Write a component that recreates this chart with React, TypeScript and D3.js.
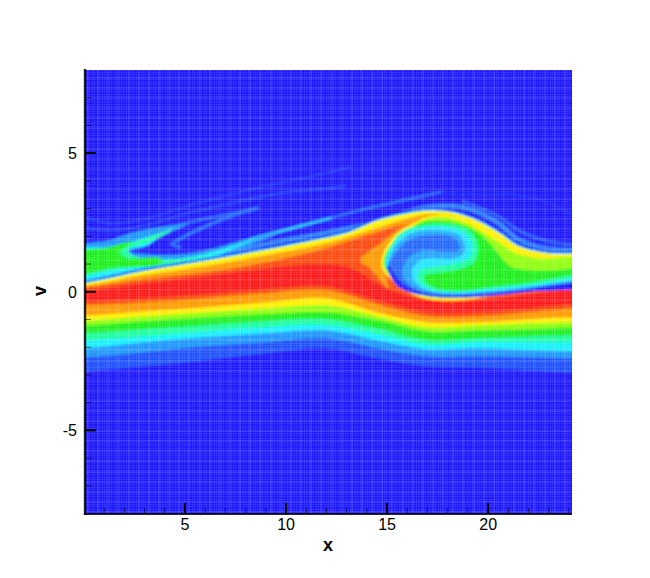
import React from "react";
import * as d3 from "d3";

type P = [number, number];
const X_DOMAIN: P = [0.05, 24.15];
const V_DOMAIN: P = [-8, 8];
const xMajor = [5, 10, 15, 20];
const vMajor = [-5, 0, 5];
const xMinor = d3.range(1, 25);
const vMinor = d3.range(-7, 8);

const lowerX = [0.05, 3, 6, 9, 12, 14.5, 17, 19.5, 22, 24.15];
const midLower = [-2.87, -2.69, -2.47, -2.22, -2.04, -2.40, -2.69, -2.73, -2.83, -2.91];
const skyLower = [-2.36, -2.18, -1.97, -1.82, -1.68, -2.04, -2.33, -2.33, -2.36, -2.40];
const cyanLower = [-2.04, -1.82, -1.64, -1.50, -1.39, -1.75, -2.08, -2.04, -2.11, -2.15];
const springLower = [-1.75, -1.61, -1.43, -1.28, -1.21, -1.53, -1.90, -1.82, -1.82, -1.82];
const greenLower = [-1.50, -1.35, -1.21, -1.06, -0.99, -1.32, -1.75, -1.68, -1.61, -1.57];
const limeLower = [-1.21, -1.06, -0.92, -0.81, -0.74, -1.03, -1.43, -1.39, -1.35, -1.28];
const yellowLower = [-1.03, -0.88, -0.74, -0.60, -0.49, -0.88, -1.28, -1.21, -1.14, -1.10];
const orangeLower = [-0.85, -0.70, -0.56, -0.38, -0.23, -0.74, -1.10, -1.10, -0.99, -0.92];
const scarletLower = [-0.49, -0.38, -0.23, -0.05, 0.05, -0.45, -0.88, -0.88, -0.74, -0.60];
const redLower = [-0.34, -0.23, -0.09, 0.09, 0.20, -0.31, -0.74, -0.74, -0.60, -0.45];

const upperX = [0.05, 3, 6, 9, 12, 13.2, 14.5, 15.9, 17.1, 18.4, 19.6, 20.6, 21.5, 22.8, 24.15];
const yellowTop = [0.31, 0.74, 1.10, 1.50, 1.93, 2.15, 2.55, 2.80, 2.91, 2.82, 2.50, 2.08, 1.63, 1.39, 1.35];
const orangeTop = [0.22, 0.60, 0.92, 1.32, 1.75, 2.00, 2.30, 2.62, 2.80, 2.69, 2.20, 1.60, 1.30, 1.18, 1.15];
const scarletTop = [0.16, 0.45, 0.70, 1.06, 1.57, 1.86, 2.15, 2.40, 2.22, 1.86, 1.50, 1.14, 0.96, 0.78, 0.70];

const redTopX = [0.05, 3.02, 5.99, 9.01, 10.49, 11.98, 12.92, 13.66, 14.65, 15.64, 16.29, 17.97, 19.6, 22.08, 24.16];
const redTopV = [0.05, 0.31, 0.56, 0.85, 0.96, 0.99, 0.92, 0.70, 0.23, -0.05, -0.20, -0.38, -0.31, -0.09, 0.09];

const orangePatch: P[] = [[15.73,2.34],[14.66,1.74],[13.67,1.14],[14.16,0.84],[14.74,0.36],[15.07,0.11],[14.82,0.90],[14.74,1.38],[15.07,1.80]];

const eyeYellow: P[] = [[14.70,1.06],[14.85,1.50],[15.25,1.93],[15.74,2.26],[16.24,2.44],[16.88,2.69],[17.62,2.78],[18.37,2.69],[19.11,2.50],[19.85,2.20],[20.59,1.90],[21.34,1.52],[22.57,1.27],[24.55,1.23],[24.55,0.31],[22.57,0.09],[20.59,-0.09],[19.11,-0.27],[17.62,-0.31],[16.63,-0.20],[15.89,0.05],[15.25,0.42],[14.85,0.70]];
const eyeLime: P[] = [[14.80,1.06],[14.98,1.50],[15.40,1.86],[15.89,2.15],[16.39,2.42],[17.13,2.66],[17.87,2.68],[18.51,2.58],[19.21,2.38],[19.85,2.08],[20.59,1.76],[21.34,1.40],[22.57,1.20],[24.55,1.16],[24.55,0.38],[22.57,0.16],[20.59,-0.02],[19.11,-0.20],[17.62,-0.23],[16.63,-0.13],[15.89,0.13],[15.30,0.49],[14.90,0.78]];
const eyeGreen: P[] = [[14.84,1.06],[15.08,1.55],[15.54,1.90],[16.04,2.22],[16.63,2.48],[17.37,2.56],[18.37,2.48],[19.36,2.20],[20.0,1.80],[20.59,1.30],[21.09,0.92],[22.08,0.78],[23.32,0.78],[24.55,0.80],[24.55,0.45],[22.57,0.23],[20.59,0.05],[19.11,-0.13],[17.62,-0.16],[16.63,-0.05],[15.89,0.20],[15.35,0.52],[14.95,0.82]];
const eyeSpring: P[] = [[14.87,1.06],[15.15,1.64],[15.69,2.15],[16.63,2.40],[18.12,2.44],[19.11,2.18],[19.5,1.68],[19.3,1.06],[18.37,0.78],[17.37,0.67],[16.88,0.6],[16.88,0.38],[17.47,0.13],[18.61,0.05],[20.43,0.20],[22.08,0.33],[24.14,0.60],[24.72,0.66],[24.72,0.24],[22.08,0.11],[20.43,-0.01],[18.78,-0.09],[17.13,-0.01],[15.98,0.30],[14.97,0.84]];
const eyeCyan: P[] = [[14.95,1.06],[15.25,1.61],[15.79,2.08],[16.63,2.29],[17.97,2.33],[18.86,2.11],[19.21,1.68],[19.01,1.21],[18.12,0.99],[17.13,0.88],[16.63,0.78],[16.53,0.42],[17.02,0.13],[18.12,-0.02],[20.43,0.12],[22.08,0.24],[24.14,0.48],[24.72,0.54],[24.72,0.24],[22.08,0.09],[20.43,-0.03],[18.78,-0.11],[17.13,-0.03],[15.98,0.27],[15.0,0.84]];
const eyeSky: P[] = [[15.05,1.06],[15.35,1.57],[15.89,1.97],[16.63,2.18],[17.87,2.18],[18.61,2.0],[18.86,1.50],[18.37,1.21],[17.37,1.21],[16.63,1.14],[16.24,0.78],[16.34,0.38],[16.88,0.09],[17.87,-0.05],[20.43,0.04],[22.08,0.18],[24.14,0.39],[24.72,0.44],[24.72,0.20],[22.08,0.06],[20.43,-0.06],[18.78,-0.14],[17.13,-0.07],[15.89,0.23],[15.05,0.84]];
const eyeMid: P[] = [[15.12,1.06],[15.54,1.5],[16.04,1.86],[16.63,2.0],[17.72,2.04],[18.41,1.9],[18.56,1.5],[17.87,1.43],[16.88,1.50],[16.14,1.28],[15.79,0.85],[15.84,0.49],[16.39,0.13],[17.62,-0.09],[20.43,-0.02],[22.08,0.13],[24.14,0.34],[24.72,0.38],[24.72,0.18],[22.08,0.01],[20.43,-0.11],[18.78,-0.19],[16.80,-0.11],[15.56,0.18],[15.08,0.78]];
const eyeDeep: P[] = [[15.12,0.92],[15.4,0.6],[15.95,0.2],[16.97,-0.06],[18.78,-0.12],[20.43,-0.04],[22.08,0.11],[24.14,0.32],[24.72,0.37],[24.72,0.20],[22.08,0.01],[20.43,-0.13],[18.78,-0.21],[16.97,-0.15],[15.75,0.10],[15.15,0.58],[15.0,0.92]];

const tongueSky: P[] = [[-0.2,1.6],[1.29,1.86],[2.28,2.11],[4.01,2.36],[5.1,2.44],[4.26,2.15],[3.02,1.68],[2.28,1.46],[3.12,1.35],[4.75,1.35],[6.39,1.53],[8.2,1.90],[9.6,2.12],[8.2,1.66],[7.0,1.32],[5.99,1.10],[3.02,0.74],[0.05,0.31],[-0.2,0.31]];
const tongueCyan: P[] = [[-0.2,1.5],[1.29,1.62],[2.52,1.83],[3.76,2.08],[3.17,1.68],[2.18,1.5],[2.53,1.25],[4.01,1.14],[5.74,1.32],[7.5,1.68],[8.6,1.96],[7.3,1.52],[5.99,1.14],[3.02,0.74],[0.05,0.31],[-0.2,0.31]];
const tongueSpring: P[] = [[-0.2,1.44],[1.44,1.58],[3.12,1.95],[4.41,2.26],[3.27,1.82],[2.18,1.50],[2.53,1.28],[4.5,1.17],[6.49,1.36],[4.5,1.03],[1.44,0.78],[0.05,0.58],[-0.2,0.58]];
const tongueGreen: P[] = [[-0.2,1.42],[1.04,1.58],[2.4,1.80],[1.78,1.43],[2.1,1.23],[3.8,1.2],[3.8,1.02],[1.44,0.86],[0.05,0.64],[-0.2,0.64]];

type Filament = { pts: P[]; color: string; width: number };
const filaments: Filament[] = [
  { pts: [[0.15,2.65],[1.44,2.47],[3.12,2.65],[5.6,3.19],[8.07,3.66],[12.18,4.31],[13.17,4.49]], color: "#2440ff", width: 1.6 },
  { pts: [[0.15,2.29],[1.44,2.22],[3.12,2.40],[4.75,2.76],[7.23,3.19],[9.7,3.56],[12.18,3.74],[12.92,3.81]], color: "#2448ff", width: 1.8 },
  { pts: [[8.56,3.01],[7.23,2.80],[5.25,2.51],[3.76,2.15],[2.28,1.71]], color: "#2468ff", width: 2.6 },
  { pts: [[8.56,3.01],[7.23,2.72],[5.6,2.22],[4.65,1.86],[4.36,1.71],[4.75,1.61]], color: "#2470ff", width: 3 },
  { pts: [[20.94,3.56],[22.73,3.27],[24.16,2.76]], color: "#2030ff", width: 1.6 },
  { pts: [[18.76,3.25],[20.44,2.75],[21.54,2.2],[22.8,1.85],[24.16,1.7]], color: "#2860ff", width: 2.6 },
  { pts: [[17.62,3.59],[19.5,3.5],[20.94,3.56]], color: "#2030ff", width: 1.4 },
  { pts: [[7.23,1.44],[9.7,1.82],[12.18,2.15],[13.81,2.40],[15.49,2.76],[16.98,3.05],[18.76,3.05],[20.44,2.51],[21.44,1.90],[22.72,1.58],[24.16,1.51]], color: "#2a80ff", width: 4.5 },
  { pts: [[5.25,1.32],[6.39,1.50],[8.07,1.86],[9.7,2.18],[12.18,2.65],[13.66,2.94],[15.15,3.19],[17.62,3.59]], color: "#2470ff", width: 2.2 },
  { pts: [[5.25,1.32],[6.39,1.50],[8.07,1.86],[9.7,2.18],[12.18,2.65]], color: "#1fd0ff", width: 2.2 },
];

const C = {
  deep: "#1a14ff", mid: "#1a50ff", sky: "#1e96ff", cyan: "#19f0ff", spring: "#1affa0", green: "#1cf01c",
  lime: "#90ff10", yellow: "#fff000", orange: "#ff9a00", scarlet: "#ff4a10", red: "#ff1414",
  eyeMid: "#2468ff", eyeSky: "#22a4ff", eyeCyan: "#22e4ff",
};
const FINE_COLS = 200;
const FINE_ROWS = 182;
const COARSE_COLS = 48;
const COARSE_ROWS = 44;

const W = 650, H = 578;
const L = 85, R = 572, T = 70, B = 514;

export default function App() {
  const x = d3.scaleLinear().domain(X_DOMAIN).range([L, R]);
  const y = d3.scaleLinear().domain(V_DOMAIN).range([B - 0.5, T]);
  const smooth = d3.line<P>().x(d => x(d[0])).y(d => y(d[1])).curve(d3.curveCatmullRom.alpha(0.5));
  const closed = d3.line<P>().x(d => x(d[0])).y(d => y(d[1])).curve(d3.curveCatmullRomClosed.alpha(0.5));
  const zip = (xs: number[], vs: number[]) => {
    const pts = xs.map((a, i) => [a, vs[i]] as P);
    return [[xs[0] - 1, vs[0]] as P, ...pts, [xs[xs.length - 1] + 1, vs[vs.length - 1]] as P];
  };
  const band = (topX: number[], top: number[], low: number[]) => {
    const a = smooth(zip(topX, top)) as string;
    const b = smooth(zip(lowerX, low).reverse()) as string;
    return a + "L" + b.slice(1) + "Z";
  };
  const bands: [string, number[], number[], number[]][] = [
    [C.mid, upperX, yellowTop, midLower],
    [C.sky, upperX, yellowTop, skyLower],
    [C.cyan, upperX, yellowTop, cyanLower],
    [C.spring, upperX, yellowTop, springLower],
    [C.green, upperX, yellowTop, greenLower],
    [C.lime, upperX, yellowTop, limeLower],
    [C.yellow, upperX, yellowTop, yellowLower],
    [C.orange, upperX, orangeTop, orangeLower],
    [C.scarlet, upperX, scarletTop, scarletLower],
    [C.red, redTopX, redTopV, redLower],
  ];
  const eye: [string, P[]][] = [
    [C.yellow, eyeYellow], [C.lime, eyeLime], [C.green, eyeGreen], [C.spring, eyeSpring],
    [C.eyeCyan, eyeCyan], [C.eyeSky, eyeSky], [C.eyeMid, eyeMid], [C.deep, eyeDeep],
  ];
  const tongue: [string, P[]][] = [
    [C.sky, tongueSky], [C.cyan, tongueCyan], [C.spring, tongueSpring], [C.green, tongueGreen],
  ];
  const rim = smooth(zip(upperX, yellowTop)) as string;
  const font = "'Liberation Sans', Arial, sans-serif";
  return (
    <svg width={W} height={H} style={{ position: "absolute", left: 0, top: 0, background: "#fff" }}>
      <defs>
        <clipPath id="plot"><rect x={L} y={T} width={R - L} height={B - T} /></clipPath>
        <filter id="soft" x="-5%" y="-5%" width="110%" height="110%"><feGaussianBlur stdDeviation={0.8} /></filter>
      </defs>
      <g clipPath="url(#plot)">
        <g filter="url(#soft)">
          <rect x={L - 15} y={T - 15} width={R - L + 30} height={B - T + 30} fill={C.deep} />
          {filaments.map((f, i) => (
            <path key={i} d={smooth(f.pts) as string} fill="none" stroke={f.color} strokeWidth={f.width} strokeLinecap="round" />
          ))}
          {tongue.map(([c, pts], i) => <path key={i} d={closed(pts) as string} fill={c} />)}
          <path d={rim} fill="none" stroke={C.deep} strokeWidth={6} />
          <path d={rim} fill="none" stroke={C.cyan} strokeWidth={2.5} />
          {bands.map(([c, tx, tv, lv], i) => <path key={i} d={band(tx, tv, lv)} fill={c} />)}
          <path d={closed(orangePatch) as string} fill={C.orange} />
          {eye.map(([c, pts], i) => <path key={i} d={closed(pts) as string} fill={c} />)}
        </g>
        <g stroke="#ffffff" strokeOpacity={0.08} strokeWidth={1} shapeRendering="crispEdges">
          {d3.range(FINE_COLS + 1).map(i => {
            const px = L + (i * (R - L)) / FINE_COLS;
            return <line key={i} x1={px} x2={px} y1={T} y2={B} />;
          })}
          {d3.range(FINE_ROWS + 1).map(i => {
            const py = T + (i * (B - T)) / FINE_ROWS;
            return <line key={i} x1={L} x2={R} y1={py} y2={py} />;
          })}
        </g>
        <g stroke="#ffffff" strokeOpacity={0.08} strokeWidth={2} shapeRendering="crispEdges">
          {d3.range(COARSE_COLS + 1).map(i => {
            const px = L + 3 + (i * (R - L)) / COARSE_COLS;
            return <line key={i} x1={px} x2={px} y1={T} y2={B} />;
          })}
          {d3.range(COARSE_ROWS + 1).map(i => {
            const py = T + 8 + (i * (B - T)) / COARSE_ROWS;
            return <line key={i} x1={L} x2={R} y1={py} y2={py} />;
          })}
        </g>
      </g>
      <g stroke="#000">
        <line x1={L} x2={L} y1={69} y2={B + 1} strokeWidth={2.4} opacity={0.85} />
        <line x1={L - 1} x2={R} y1={B} y2={B} strokeWidth={2} opacity={0.85} />
        {xMinor.map(d => <line key={d} x1={x(d)} x2={x(d)} y1={B} y2={B - 6} strokeWidth={1} opacity={0.55} />)}
        {vMinor.map(d => <line key={d} x1={L} x2={L + 6} y1={y(d)} y2={y(d)} strokeWidth={1} opacity={0.55} />)}
        {xMajor.map(d => <line key={d} x1={x(d)} x2={x(d)} y1={B} y2={B - 11} strokeWidth={2} />)}
        {vMajor.map(d => <line key={d} x1={L} x2={L + 11} y1={y(d)} y2={y(d)} strokeWidth={2} />)}
      </g>
      <g fontFamily={font} fontSize={16} fill="#000">
        {xMajor.map(d => <text key={d} x={x(d)} y={530} textAnchor="middle">{d}</text>)}
        {vMajor.map(d => <text key={d} x={77} y={y(d) + 6} textAnchor="end">{d}</text>)}
        <text x={328} y={551} textAnchor="middle" fontWeight="bold" fontSize={18}>x</text>
        <text transform="translate(46,291) rotate(-90)" textAnchor="middle" fontWeight="bold" fontSize={18}>v</text>
      </g>
    </svg>
  );
}
